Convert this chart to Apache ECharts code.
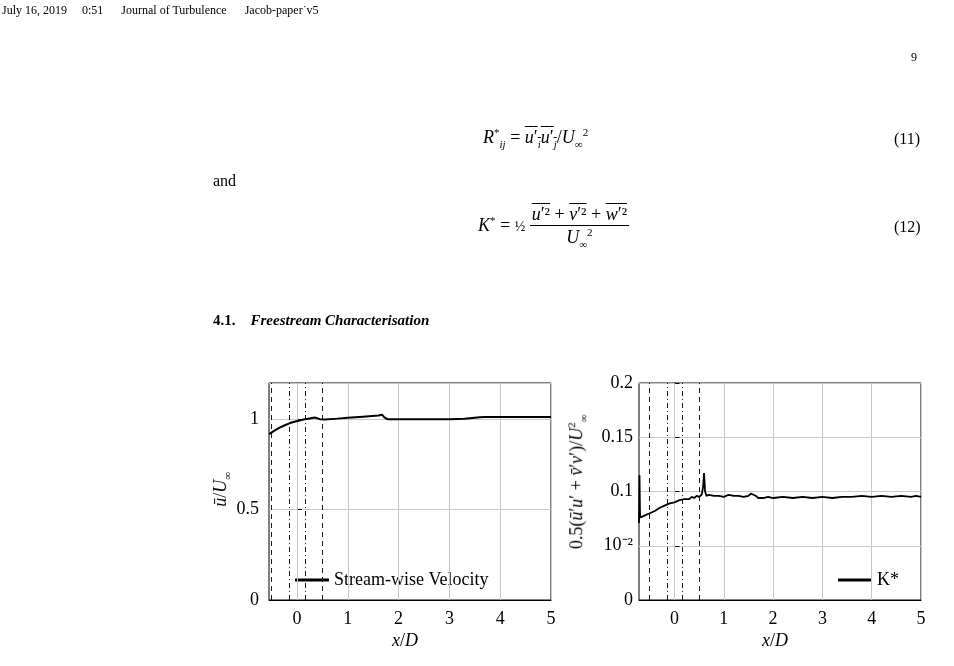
<!DOCTYPE html>
<html><head><meta charset="utf-8">
<script src="https://cdn.jsdelivr.net/npm/echarts@6/dist/echarts.min.js"></script>
<style>
body{margin:0;background:#fff;font-family:"Liberation Serif","DejaVu Serif",serif;color:#000}
#c{position:absolute;left:0;top:0;width:954px;height:666px}
.t{position:absolute;white-space:nowrap;font-size:15px}
.ol{text-decoration:overline}
i{font-style:italic}
</style></head><body>
<div id="c"></div>
<div class="t" style="left:2px;top:3px;font-size:12px">July 16, 2019&nbsp;&nbsp;&nbsp;&nbsp;&nbsp;0:51&nbsp;&nbsp;&nbsp;&nbsp;&nbsp;&nbsp;Journal of Turbulence&nbsp;&nbsp;&nbsp;&nbsp;&nbsp;&nbsp;Jacob-paper˙v5</div>
<div class="t" style="left:911px;top:50px;font-size:12px">9</div>
<div class="t" style="left:483px;top:126px;font-size:18px"><i>R</i><sup style="font-size:11px">*</sup><sub style="font-size:11px"><i>ij</i></sub> = <span class="ol"><i>u</i>′<sub style="font-size:11px"><i>i</i></sub><i>u</i>′<sub style="font-size:11px"><i>j</i></sub></span>/<i>U</i><sub style="font-size:11px">∞</sub><sup style="font-size:11px">2</sup></div>
<div class="t" style="left:894px;top:130px;font-size:16px">(11)</div>
<div class="t" style="left:213px;top:172px;font-size:16px">and</div>
<div class="t" style="left:478px;top:204px;font-size:18px"><i>K</i><sup style="font-size:11px">*</sup> = <span style="display:inline-block;text-align:center;vertical-align:middle;font-size:14px">½</span>&nbsp;<span style="display:inline-block;text-align:center;vertical-align:middle"><span style="display:block;border-bottom:1px solid #000;padding:0 2px"><span class="ol"><i>u</i>′²</span> + <span class="ol"><i>v</i>′²</span> + <span class="ol"><i>w</i>′²</span></span><span style="display:block"><i>U</i><sub style="font-size:11px">∞</sub><sup style="font-size:11px">2</sup></span></span></div>
<div class="t" style="left:894px;top:218px;font-size:16px">(12)</div>
<div class="t" style="left:213px;top:312px;font-size:15px"><b>4.1.</b>&nbsp;&nbsp;&nbsp;&nbsp;<b><i>Freestream Characterisation</i></b></div>
<div class="t" style="left:204px;top:478px;font-size:18px;transform:rotate(-90deg);transform-origin:center"><i>ū</i>/<i>U</i><sub style="font-size:11px">∞</sub></div>
<div class="t" style="left:482px;top:470px;font-size:18px;width:190px;text-align:center;transform:rotate(-90deg);transform-origin:center">0.5(<i>ū</i>′<i>u</i>′ + <i>v̄</i>′<i>v</i>′)/<i>U</i><sup style="font-size:11px">2</sup><sub style="font-size:11px">∞</sub></div>
<div class="t" style="left:392px;top:630px;font-size:18px"><i>x</i>/<i>D</i></div>
<div class="t" style="left:762px;top:630px;font-size:18px"><i>x</i>/<i>D</i></div>
<script>
const uX=[-0.55,-0.45,-0.35,-0.25,-0.15,-0.05,0.05,0.15,0.25,0.35,0.45,0.55,0.8,1.0,1.3,1.6,1.68,1.72,1.78,2.0,2.5,3.0,3.3,3.6,3.7,4.0,4.5,5.0];
const uY=[0.917,0.935,0.952,0.965,0.977,0.986,0.993,0.999,1.004,1.009,1.0,0.998,1.003,1.008,1.014,1.02,1.024,1.01,1.0,1.0,1.0,1.0,1.002,1.01,1.012,1.012,1.012,1.012];
const kX=[-0.72,-0.71,-0.70,-0.69,-0.68,-0.6,-0.5,-0.4,-0.3,-0.2,-0.1,0.0,0.1,0.2,0.3,0.35,0.4,0.45,0.5,0.55,0.58,0.6,0.62,0.65,0.7,0.8,0.9,1.0,1.1,1.2,1.3,1.4,1.5,1.55,1.6,1.65,1.7,1.8,1.9,2.0,2.2,2.4,2.6,2.8,3.0,3.2,3.4,3.6,3.8,4.0,4.2,4.4,4.6,4.8,4.9,5.0];
const kY=[0.071,0.115,0.080,0.076,0.075,0.078,0.080,0.082,0.085,0.087,0.089,0.090,0.092,0.093,0.093,0.095,0.094,0.096,0.095,0.097,0.104,0.117,0.100,0.096,0.097,0.096,0.096,0.095,0.097,0.096,0.096,0.095,0.096,0.098,0.097,0.096,0.094,0.094,0.095,0.094,0.095,0.094,0.095,0.094,0.095,0.094,0.095,0.095,0.096,0.095,0.096,0.095,0.096,0.095,0.096,0.095];
const uXTicks=[0,1,2,3,4,5];
const kYTicks=[0,0.05,0.1,0.15,0.2];
const uRefLines=[[-0.5,'dashed'],[-0.15,'dashdot'],[0.16,'dashdot'],[0.5,'dashed']];
const kRefLines=[[-0.51,'dashed'],[-0.15,'dashdot'],[0.15,'dashdot'],[0.5,'dashed']];
const font='Liberation Serif';
function ml(ref){
  return {symbol:'none',silent:true,label:{show:false},data:
    uXTicks.map(v=>({xAxis:v,lineStyle:{color:'#c8c8c8',width:1,type:'solid'}})).concat(
    ref.map(r=>({xAxis:r[0],lineStyle:{color:'#000',width:0.9,type:r[1]==='dashed'?[5,4]:[5,3,1,3]}})))};
}
function xa(i,min){return {gridIndex:i,type:'value',min:min,max:5,
  axisLine:{lineStyle:{color:'#000'}},splitLine:{show:false},
  axisTick:{inside:true,customValues:uXTicks,lineStyle:{color:'#000'}},
  axisLabel:{customValues:uXTicks,color:'#000',fontFamily:font,fontSize:18,margin:10}};}
const chart=echarts.init(document.getElementById('c'));
chart.setOption({animation:false,
 grid:[{left:269,top:383,width:282,height:217,show:true,borderColor:'#000',borderWidth:1},
       {left:639,top:383,width:282,height:217,show:true,borderColor:'#000',borderWidth:1}],
 xAxis:[xa(0,-0.55),xa(1,-0.72)],
 yAxis:[{gridIndex:0,type:'value',min:0,max:1.2,interval:0.5,
   axisLine:{show:true,lineStyle:{color:'#000'}},axisTick:{show:true,inside:true,lineStyle:{color:'#000'}},
   splitLine:{lineStyle:{color:'#c8c8c8'}},
   axisLabel:{color:'#000',fontFamily:font,fontSize:18,margin:10,showMaxLabel:false}},
  {gridIndex:1,type:'value',min:0,max:0.2,interval:0.05,
   axisLine:{show:true,lineStyle:{color:'#000'}},axisTick:{show:true,inside:true,lineStyle:{color:'#000'}},
   splitLine:{lineStyle:{color:'#c8c8c8'}},
   axisLabel:{color:'#000',fontFamily:font,fontSize:18,margin:6,
     formatter:v=>Math.abs(v-0.05)<1e-9?'10⁻²':String(+v.toFixed(2))}}],
 legend:[{data:['Stream-wise Velocity'],left:290,top:566,itemWidth:34,itemHeight:3,itemGap:4,
   icon:'rect',textStyle:{fontFamily:font,fontSize:18,color:'#000'},itemStyle:{color:'#000'}},
  {data:['K*'],left:833,top:566,itemWidth:34,itemHeight:3,icon:'rect',
   textStyle:{fontFamily:font,fontSize:18,color:'#000'}}],
 series:[{name:'Stream-wise Velocity',type:'line',xAxisIndex:0,yAxisIndex:0,showSymbol:false,
   data:uX.map((x,i)=>[x,uY[i]]),lineStyle:{color:'#000',width:2},itemStyle:{color:'#000'},markLine:ml(uRefLines),z:5},
  {name:'K*',type:'line',xAxisIndex:1,yAxisIndex:1,showSymbol:false,
   data:kX.map((x,i)=>[x,kY[i]]),lineStyle:{color:'#000',width:1.8},itemStyle:{color:'#000'},markLine:ml(kRefLines),z:5}]
});
</script></body></html>
